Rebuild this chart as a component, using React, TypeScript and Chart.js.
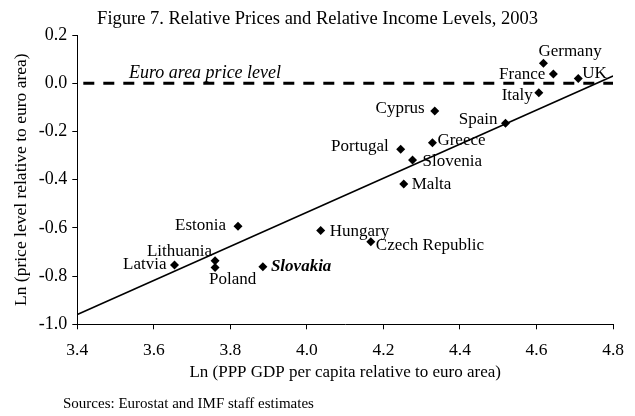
import { useEffect, useRef } from "react";
import { Chart, registerables } from "chart.js";

Chart.register(...registerables);

// ---- Data ----
const countries = [
  "Germany", "France", "UK", "Italy", "Spain", "Cyprus", "Greece", "Portugal",
  "Slovenia", "Malta", "Hungary", "Czech Republic", "Slovakia", "Estonia",
  "Latvia", "Lithuania", "Poland",
];
const incomeLn = [
  4.618, 4.644, 4.709, 4.606, 4.519, 4.334, 4.328, 4.245,
  4.276, 4.253, 4.036, 4.167, 3.885, 3.820,
  3.654, 3.760, 3.760,
];
const priceLn = [
  0.083, 0.038, 0.020, -0.040, -0.166, -0.115, -0.247, -0.274,
  -0.319, -0.418, -0.611, -0.658, -0.761, -0.593,
  -0.754, -0.736, -0.764,
];
const trendX = [3.4, 4.8];
const trendY = [-0.959, 0.03];
const euroLevelX = [3.4, 4.8];
const euroLevelY = [0, 0];
const xTickValues = [3.4, 3.6, 3.8, 4.0, 4.2, 4.4, 4.6, 4.8];
const yTickValues = [-1.0, -0.8, -0.6, -0.4, -0.2, 0.0, 0.2];

const titleText = "Figure 7. Relative Prices and Relative Income Levels, 2003";
const xTitle = "Ln (PPP GDP per capita relative to euro area)";
const yTitle = "Ln (price level relative to euro area)";
const euroLabel = "Euro area price level";
const euroLabelAt = 3.535;
const sourcesText = "Sources: Eurostat and IMF staff estimates";
const highlighted = "Slovakia";

// ---- Label placement (style, not data) ----
type Place = { dx: number; dy: number; align: CanvasTextAlign };
const labelPlacement: Record<string, Place> = {
  Germany: { dx: -5, dy: -12, align: "left" },
  France: { dx: -8, dy: 0, align: "right" },
  UK: { dx: 4, dy: -5, align: "left" },
  Italy: { dx: -6, dy: 3, align: "right" },
  Spain: { dx: -8, dy: -4, align: "right" },
  Cyprus: { dx: -10, dy: -2, align: "right" },
  Greece: { dx: 5, dy: -2, align: "left" },
  Portugal: { dx: -12, dy: -3, align: "right" },
  Slovenia: { dx: 10, dy: 1, align: "left" },
  Malta: { dx: 8, dy: 1, align: "left" },
  Hungary: { dx: 9, dy: 1, align: "left" },
  "Czech Republic": { dx: 5, dy: 4, align: "left" },
  Slovakia: { dx: 8, dy: 0, align: "left" },
  Estonia: { dx: -12, dy: -1, align: "right" },
  Latvia: { dx: -8, dy: 0, align: "right" },
  Lithuania: { dx: -3, dy: -9, align: "right" },
  Poland: { dx: -6, dy: 12, align: "left" },
};

const FONT = "'Liberation Serif', 'Times New Roman', serif";

const textPlugin = {
  id: "chartTexts",
  afterDraw(chart: any) {
    const ctx = chart.ctx as CanvasRenderingContext2D;
    const xs = chart.scales.x;
    const ys = chart.scales.y;
    ctx.save();
    ctx.fillStyle = "#000";
    ctx.textBaseline = "middle";

    // Title
    ctx.font = `18.5px ${FONT}`;
    ctx.textAlign = "center";
    ctx.fillText(titleText, chart.width / 2, 19);

    // Euro area label
    ctx.font = `italic 18px ${FONT}`;
    ctx.textAlign = "left";
    ctx.fillText(euroLabel, xs.getPixelForValue(euroLabelAt), ys.getPixelForValue(0) - 10);

    // Point labels
    const meta = chart.getDatasetMeta(0);
    meta.data.forEach((pt: any, i: number) => {
      const name = countries[i];
      const p = labelPlacement[name] || { dx: 6, dy: 0, align: "left" };
      ctx.font = name === highlighted ? `italic bold 17px ${FONT}` : `17px ${FONT}`;
      ctx.textAlign = p.align;
      ctx.fillText(name, pt.x + p.dx, pt.y + p.dy);
    });

    // Sources
    ctx.font = `15px ${FONT}`;
    ctx.textAlign = "left";
    ctx.fillText(sourcesText, 63, 404);
    ctx.restore();
  },
};

export default function App() {
  const canvasRef = useRef<HTMLCanvasElement | null>(null);

  useEffect(() => {
    if (!canvasRef.current) return;
    const chart = new Chart(canvasRef.current, {
      type: "scatter",
      data: {
        datasets: [
          {
            type: "scatter",
            label: "Countries",
            data: incomeLn.map((x, i) => ({ x, y: priceLn[i] })),
            pointStyle: "rectRot",
            pointRadius: 4.5,
            pointHoverRadius: 4.5,
            backgroundColor: "#000",
            borderColor: "#000",
            borderWidth: 0,
            order: 0,
          },
          {
            type: "line",
            label: "Trend",
            data: trendX.map((x, i) => ({ x, y: trendY[i] })),
            borderColor: "#000",
            borderWidth: 1.6,
            pointRadius: 0,
            fill: false,
            order: 1,
          },
          {
            type: "line",
            label: "Euro area",
            data: euroLevelX.map((x, i) => ({ x, y: euroLevelY[i] })),
            borderColor: "#000",
            borderWidth: 3,
            borderDash: [11, 9],
            borderDashOffset: 14,
            pointRadius: 0,
            fill: false,
            order: 2,
          },
        ] as any,
      },
      options: {
        animation: false,
        responsive: true,
        maintainAspectRatio: false,
        layout: { padding: { left: 0, right: 18.3, top: 35, bottom: 30 } },
        plugins: {
          legend: { display: false },
          title: { display: false },
          tooltip: { enabled: false },
        },
        scales: {
          x: {
            type: "linear",
            min: 3.4,
            max: 4.8,
            afterBuildTicks: (s: any) => {
              s.ticks = xTickValues.map((v) => ({ value: v }));
            },
            afterFit: (s: any) => {
              s.height = 61.7;
            },
            grid: { display: true, drawOnChartArea: false, drawTicks: true, tickLength: 5, color: "#000" },
            border: { display: true, color: "#000", width: 1 },
            ticks: {
              color: "#000",
              font: { family: FONT, size: 17.5 },
              padding: 11,
              maxRotation: 0,
              callback: (v: any) => Number(v).toFixed(1),
            },
            title: {
              display: true,
              text: xTitle,
              color: "#000",
              font: { family: FONT, size: 17 },
              padding: { top: 0, bottom: 3 },
            },
          },
          y: {
            type: "linear",
            min: -1.0,
            max: 0.2,
            afterBuildTicks: (s: any) => {
              s.ticks = yTickValues.map((v) => ({ value: v }));
            },
            afterFit: (s: any) => {
              s.width = 77.3;
            },
            grid: { display: true, drawOnChartArea: false, drawTicks: true, tickLength: 5, color: "#000" },
            border: { display: true, color: "#000", width: 1 },
            ticks: {
              color: "#000",
              font: { family: FONT, size: 18 },
              padding: 5,
              callback: (v: any) => Number(v).toFixed(1),
            },
            title: {
              display: true,
              text: yTitle,
              color: "#000",
              font: { family: FONT, size: 17.5 },
              padding: { top: 11, bottom: 0 },
            },
          },
        },
      },
      plugins: [textPlugin],
    });
    return () => chart.destroy();
  }, []);

  return (
    <div style={{ position: "fixed", left: 0, top: 0, width: 635, height: 416, background: "#fff" }}>
      <canvas ref={canvasRef} />
    </div>
  );
}
